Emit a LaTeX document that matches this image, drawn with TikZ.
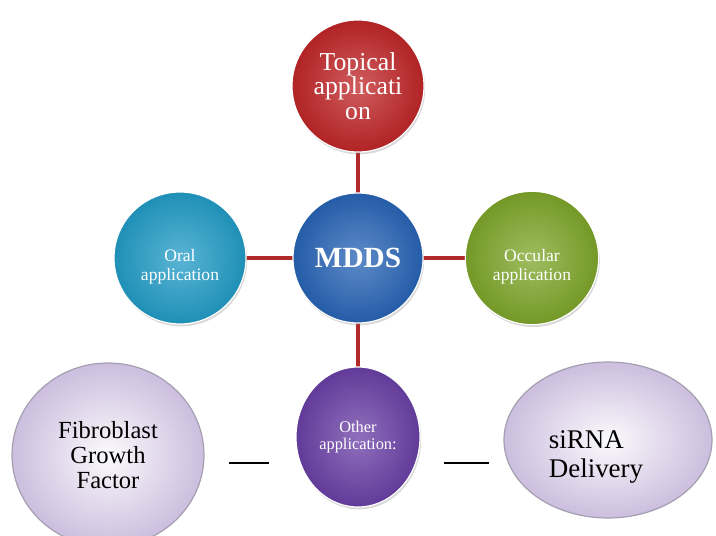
\documentclass[tikz,border=0pt]{standalone}
\usepackage{fontspec}
\setmainfont{Liberation Serif}
\usetikzlibrary{shapes.geometric,shadows,backgrounds}
\definecolor{bubblered}{RGB}{192, 38, 40}
\definecolor{bubbleblue}{RGB}{40, 100, 182}
\definecolor{bubbleteal}{RGB}{34, 156, 198}
\definecolor{bubblegreen}{RGB}{126, 166, 42}
\definecolor{bubblepurple}{RGB}{106, 64, 166}
\definecolor{lavender}{RGB}{204, 190, 222}
\definecolor{lavedge}{RGB}{165, 158, 176}
\definecolor{spoke}{RGB}{176, 42, 42}

\tikzset{
  bubble/.style={circle, minimum size=#1, inner sep=0pt, align=center, text=white,
                 draw=white, line width=1pt,
                 drop shadow={opacity=0.3, shadow xshift=1pt, shadow yshift=-2pt}},
  cloud/.style={ellipse, inner sep=0pt, align=center, draw=lavedge, line width=1pt,
                inner color=white!92!lavender, outer color=lavender},
  spokeline/.style={spoke, line width=4pt},
  gapline/.style={black, line width=1.2pt}
}
% pushes a two-line label a little below the bubble centre
\newcommand{\lowerstrut}{\rule{0pt}{26pt}}

\begin{document}
\begin{tikzpicture}[x=0.03cm, y=-0.03cm]
            \useasboundingbox (0,0) rectangle (716,536);

            % centre and the four application bubbles
            \node[bubble=3.9cm, inner color=bubbleblue!75!white, outer color=bubbleblue!92!black,
                  font=\bfseries\fontsize{25}{25}\selectfont] (mdds) at (358,258) {MDDS};
            \node[bubble=3.96cm, inner color=bubblered!75!white, outer color=bubblered!92!black,
                  font=\fontsize{22}{21}\selectfont] (topical) at (358,86) {Topical\\applicati\\on};
            \node[bubble=3.96cm, inner color=bubbleteal!75!white, outer color=bubbleteal!92!black,
                  font=\fontsize{15}{16}\selectfont] (oral) at (180,258) {\lowerstrut Oral\\application};
            \node[bubble=4.0cm, inner color=bubblegreen!75!white, outer color=bubblegreen!92!black,
                  font=\fontsize{15}{16}\selectfont] (occular) at (532,258) {\lowerstrut Occular\\application};
            \node[bubble=3.72cm, ellipse, minimum width=3.72cm, minimum height=4.2cm,
                  inner color=bubblepurple!75!white, outer color=bubblepurple!92!black,
                  font=\fontsize{14}{14}\selectfont] (other) at (358,437) {Other\\application:};

            % other applications
            \node[cloud, minimum width=5.76cm, minimum height=5.52cm,
                  font=\fontsize{21}{21}\selectfont] (fgf) at (108,455) {Fibroblast\\Growth\\Factor};
            \node[cloud, minimum width=6.24cm, minimum height=4.68cm] (sirna) at (608,440) {};
            \node[align=left, inner sep=0pt, font=\fontsize{23}{24}\selectfont] (sirnatext) at (596,457) {siRNA\\Delivery};

            \begin{scope}[on background layer]
                \draw[spokeline] (mdds.center) -- (topical.center);
                \draw[spokeline] (mdds.center) -- (oral.center);
                \draw[spokeline] (mdds.center) -- (occular.center);
                \draw[spokeline] (mdds.center) -- (other.center);
            \end{scope}

            \draw[gapline, shorten <=0.72cm, shorten >=0.78cm] (fgf.east |- 0,463) -- (other.west |- 0,463);
            \draw[gapline, shorten <=0.69cm, shorten >=0.42cm] (other.east |- 0,463) -- (sirna.west |- 0,463);
        \end{tikzpicture}
\end{document}
